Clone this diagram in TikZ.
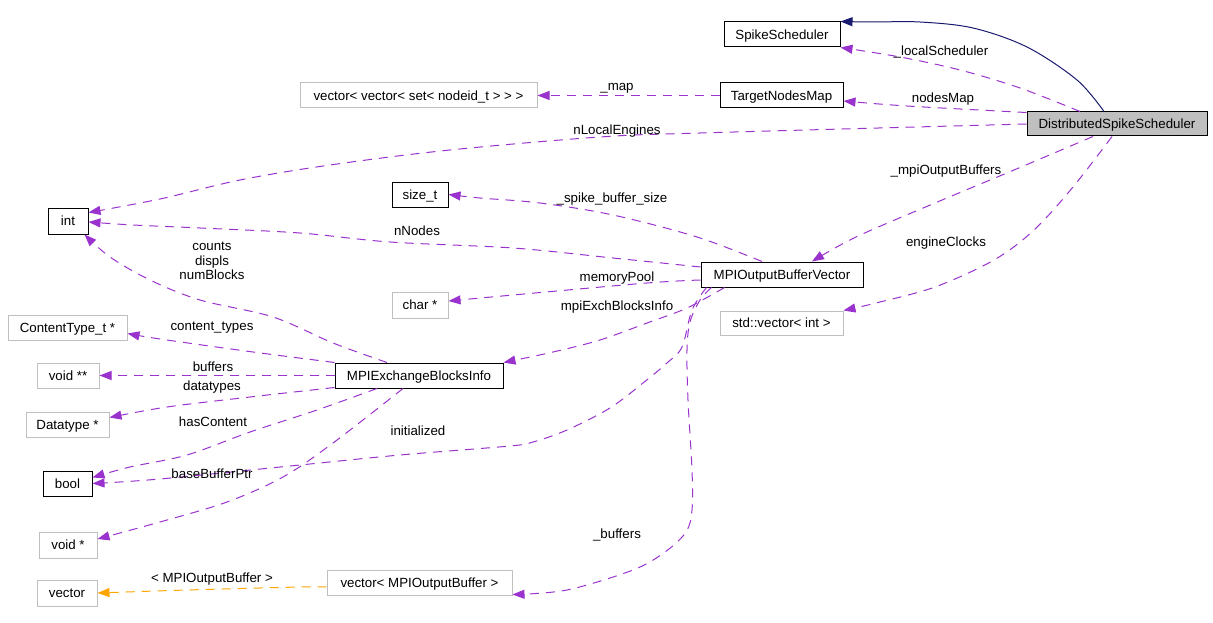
\documentclass[tikz,border=0pt]{standalone}
\usepackage{fontspec}
\setmainfont{Liberation Sans}
\usetikzlibrary{arrows.meta,calc}
\definecolor{edgepurple}{HTML}{9A32CD}
\definecolor{inhblue}{HTML}{191970}
\definecolor{tmplorange}{HTML}{FFA500}
\definecolor{boxgray}{HTML}{BFBFBF}
\newcommand\dfont{\fontsize{13.3}{14.5}\selectfont}
\tikzset{
  cls/.style={draw=black, line width=1pt, minimum height=25pt, inner sep=0pt, font=\dfont, text height=10pt, text depth=0.5pt},
  ext/.style={cls, draw=boxgray},
  mainbox/.style={cls, fill=boxgray},
  lbl/.style={inner sep=0pt, font=\dfont, align=center},
  mem/.style={draw=edgepurple, line width=1pt, dash pattern=on 9pt off 7pt, -{Triangle[length=12pt,width=9pt]}},
  inh/.style={draw=inhblue, line width=1pt, -{Triangle[length=12pt,width=9pt]}},
  tmpl/.style={draw=tmplorange, line width=1pt, dash pattern=on 9pt off 7pt, -{Triangle[length=12pt,width=9pt]}},
  smoothp/.style={smooth, tension=0.55}
}
\begin{document}
\begin{tikzpicture}[x=1pt, y=-1pt]
\useasboundingbox (0,0) rectangle (1213,623);
% nodes
\node[cls, minimum width=116pt] (ss) at (782,34.5) {SpikeScheduler};
\node[cls, minimum width=123pt] (tnm) at (781.5,95.5) {TargetNodesMap};
\node[ext, minimum width=237pt] (vvs) at (418.5,95.5) {vector< vector< set< nodeid\_t > > >};
\node[mainbox, minimum width=180pt, minimum height=24pt] (dss) at (1117,124) {DistributedSpikeScheduler};
\node[cls, minimum width=40pt, minimum height=26pt] (int) at (68,221) {int};
\node[cls, minimum width=56pt] (sizet) at (420,194.5) {size\_t};
\node[cls, minimum width=162pt] (mobv) at (782,274.5) {MPIOutputBufferVector};
\node[ext, minimum width=56pt, minimum height=26pt] (charp) at (420,305) {char *};
\node[ext, minimum width=123pt, minimum height=24pt] (svi) at (781.5,323) {std::vector< int >};
\node[ext, minimum width=119pt] (ctt) at (67.5,327.5) {ContentType\_t *};
\node[ext, minimum width=62pt] (voidpp) at (68,375.5) {void **};
\node[ext, minimum width=83pt] (dtp) at (67.5,424.5) {Datatype *};
\node[cls, minimum width=168pt] (mebi) at (419,375.5) {MPIExchangeBlocksInfo};
\node[cls, minimum width=49pt] (bool) at (67.5,483.5) {bool};
\node[ext, minimum width=58pt, minimum height=26pt] (voidp) at (68,545) {void *};
\node[ext, minimum width=60pt, minimum height=26pt] (vec) at (67,593) {vector};
\node[ext, minimum width=185pt] (vmob) at (419.5,582.5) {vector< MPIOutputBuffer >};

% edges
\draw[inh] plot[smoothp] coordinates {($(dss.north)+(-13,0)$) (1077,80) (1027,47) (973,28) (920,22) (873,22) (ss.north east)};
\draw[mem] plot[smoothp] coordinates {($(dss.north)+(-37,0)$) (1020,88) (960,70) (900,57) (ss.south east)};
\draw[mem] plot[smoothp] coordinates {($(dss.north west)+(0,1)$) (907,106) ($(tnm.east)+(0,5.5)$)};
\draw[mem] plot[smoothp] coordinates {(dss.west) (700,133) (600,137) (450,150) (330,165) (240,180) (160,199) ($(int.north east)+(0,5)$)};
\draw[mem] (tnm.west) -- (vvs.east);
\draw[mem] plot[smoothp] coordinates {($(dss.south)+(-24,0)$) (1014,170) (935,203) (856,237) ($(mobv.north)+(30,0)$)};
\draw[mem] plot[smoothp] coordinates {($(dss.south)+(-5,0)$) (1073,187) (1034,230) (994,260) (935,287) (876,303) (svi.north east)};
\draw[mem] plot[smoothp] coordinates {($(mobv.north)+(-20,0)$) (697,237) (613,215) (540,203) (480,198) (sizet.east)};
\draw[mem] plot[smoothp] coordinates {($(mobv.west)+(0,-7.5)$) (613,258) (513,248) (390,242) (300,233) (200,228) (133,225) ($(int.east)+(0,1)$)};
\draw[mem] plot[smoothp] coordinates {($(mobv.west)+(0,5.5)$) (647,283) (513,295) ($(charp.east)+(0,-4)$)};
\draw[mem] plot[smoothp] coordinates {($(mobv.south west)+(24,0)$) (687,308) (647,323) (600,340) (553,352) (mebi.north east)};
\draw[mem] plot[smoothp] coordinates {($(mobv.south west)+(6,0)$) (692,310) (682,347) (667,363) (643,383) (610,408) (567,430) (533,442) (510,446) (400,455) (300,465) (160,479) (bool.east)};
\draw[mem] plot[smoothp] coordinates {($(mobv.south west)+(11,0)$) (700,300) (690,322) (687,350) (688,400) (692,470) (692,510) (686,532) (665,552) (633,570) (567,590) ($(vmob.south east)+(0,-1)$)};
\draw[mem] plot[smoothp] coordinates {($(mebi.north)+(-32,0)$) (333,343) (273,317) (200,300) (150,280) (110,257) ($(int.south east)+(-4,0)$)};
\draw[mem] plot[smoothp] coordinates {(mebi.north west) (253,352) (160,339) ($(ctt.east)+(0,6)$)};
\draw[mem] (mebi.west) -- (voidpp.east);
\draw[mem] plot[smoothp] coordinates {($(mebi.south west)+(0,-1)$) (250,397) (167,407) ($(dtp.east)+(0,-7)$)};
\draw[mem] plot[smoothp] coordinates {($(mebi.south)+(-42,0)$) (317,410) (250,432) (187,455) (130,467) ($(bool.east)+(0,-6)$)};
\draw[mem] plot[smoothp] coordinates {($(mebi.south)+(-16,0)$) (333,443) (283,477) (227,502) (160,522) ($(voidp.east)+(0,-6)$)};
\draw[tmpl] plot[smoothp] coordinates {($(vmob.west)+(0,4.5)$) (300,587) (187,590) (vec.east)};

% labels
\node[lbl] (l1) at (941,52) {\_localScheduler};
\node[lbl] (l2) at (943,99) {nodesMap};
\node[lbl] (l3) at (617,131) {nLocalEngines};
\node[lbl] (l4) at (617,88) {\_map};
\node[lbl] (l5) at (946,171) {\_mpiOutputBuffers};
\node[lbl] (l6) at (946,243) {engineClocks};
\node[lbl] (l7) at (612,199) {\_spike\_buffer\_size};
\node[lbl] (l8) at (417,231) {nNodes};
\node[lbl] (l9) at (617,278) {memoryPool};
\node[lbl] (l10) at (617,307) {mpiExchBlocksInfo};
\node[lbl] (l11) at (418,431) {initialized};
\node[lbl] (l12) at (617,535) {\_buffers};
\node[lbl] (l13) at (212,261) {counts\\displs\\numBlocks};
\node[lbl] (l14) at (212,328) {content\_types};
\node[lbl] (l15) at (213,367) {buffers};
\node[lbl] (l16) at (212,387) {datatypes};
\node[lbl] (l17) at (213,422) {hasContent};
\node[lbl] (l18) at (212,474) {baseBufferPtr};
\node[lbl] (l19) at (212,579) {< MPIOutputBuffer >};
\end{tikzpicture}
\end{document}
